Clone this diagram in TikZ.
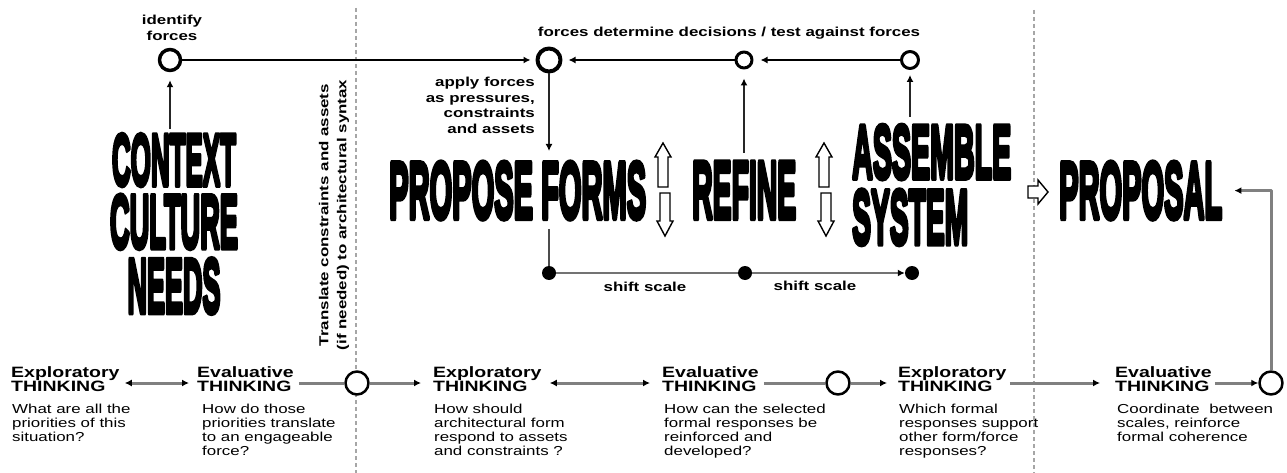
\documentclass[tikz,border=0pt]{standalone}
\usepackage{fontspec}
\setmainfont{Liberation Sans}[FakeStretch=1.3]
\newfontfamily\heavyfont{Liberation Sans}[BoldFeatures={FakeBold=7}]
\usetikzlibrary{arrows.meta,calc}
\newcommand\bigword[3]{\resizebox{#1pt}{#2pt}{\heavyfont\bfseries #3}}
\newcommand\stackC[1]{\vbox{\offinterlineskip\halign{\hfil##\hfil\cr#1}}}
\newcommand\stackL[1]{\vbox{\offinterlineskip\halign{##\hfil\cr#1}}}
\tikzset{
  lbl/.style={font=\bfseries\fontsize{13}{15.5}\selectfont, inner sep=0},
  body/.style={font=\fontsize{13}{14}\selectfont, align=left, anchor=north west, inner sep=0},
  head/.style={font=\bfseries\fontsize{15}{14.5}\selectfont, align=left, anchor=north west, inner sep=0},
  big/.style={anchor=north west, inner sep=0, line join=round},
  ring/.style={circle, draw, fill=white, inner sep=0},
  dotn/.style={circle, fill=black, inner sep=0, minimum size=14pt},
  tipk/.tip={Latex[length=7pt,width=7pt,color=black]},
  topc/.style={line width=2.5pt, -tipk},
  vert/.style={line width=1.5pt, draw=black!85, -tipk},
  plainv/.style={line width=1.5pt, draw=black!70},
  botl/.style={line width=3pt, draw=black!50},
  scl/.style={line width=2.5pt, draw=black!55},
  gapline/.style={line width=2pt, draw=black!35, dash pattern=on 4pt off 3pt},
  blockar/.style={line width=1.4pt, draw=black, fill=white, line join=miter},
  dblarrow/.pic={
    \draw[blockar] (0,-47)--(8,-33)--(5,-33)--(5,-3)--(-5,-3)--(-5,-33)--(-8,-33)--cycle;
    \draw[blockar] (2,46)--(10,31)--(7,31)--(7,3)--(-3,3)--(-3,31)--(-6,31)--cycle;
  }
}
\begin{document}
\begin{tikzpicture}[x=1pt,y=-1pt, line join=round]
\fill[white] (0,0) rectangle (1287,473);
\useasboundingbox (0,0) rectangle (1287,473);

% dashed dividers
\draw[gapline] (356,8) -- (356,473);
\draw[gapline] (1034,10) -- (1034,473);

% rotated text
\node[lbl, rotate=90, align=center, font=\bfseries\fontsize{13}{18}\selectfont] (transl) at (334,215)
  {Translate constraints and assets\\(if needed) to architectural syntax};

% big words
\node[big, anchor=north] (ccn) at (174,134) {\stackC{\bigword{124}{51}{CONTEXT}\cr\noalign{\kern9pt}\bigword{128}{53}{CULTURE}\cr\noalign{\kern10pt}\bigword{93}{54}{NEEDS}\cr}};
\node[big] (pf) at (389,162) {\bigword{257}{56}{PROPOSE FORMS}};
\node[big] (ref) at (692,162) {\bigword{104}{56}{REFINE}};
\node[big] (asm) at (852,125) {\stackL{\bigword{159}{53}{ASSEMBLE}\cr\noalign{\kern11pt}\bigword{116}{54}{SYSTEM}\cr}};
\node[big] (prop) at (1059,162) {\bigword{163}{56}{PROPOSAL}};

% block arrows
\pic at (663,190) {dblarrow};
\pic at (824,190) {dblarrow};
\draw[blockar] (1028,186)--(1038,186)--(1038,180)--(1048,192)--(1038,204)--(1038,198)--(1028,198)--cycle;

% top circles
\node[ring, line width=3.5pt, minimum size=21pt] (c1) at (170,60) {};
\node[ring, line width=4pt, minimum size=23pt] (c2) at (549,60) {};
\node[ring, line width=3pt, minimum size=16pt] (c3) at (744,60) {};
\node[ring, line width=3pt, minimum size=17pt] (c4) at (910,60) {};

% top labels
\node[lbl, align=center] (idf) at (172,28) {identify\\forces};
\node[lbl] (fdd) at (729,33) {forces determine decisions / test against forces};
\node[lbl, align=right, anchor=north east] (apf) at (535,77) {apply forces\\as pressures,\\constraints\\and assets};

% top connectors
\draw[topc, shorten >=5pt] (c1) -- (c2);
\draw[topc, shorten >=6pt] (c3) -- (c2);
\draw[topc, shorten >=7pt] (c4) -- (c3);
\draw[vert, shorten >=8pt] ([yshift=5pt]c1 |- ccn.north) -- (c1);
\draw[vert] (c2) -- ([yshift=11pt]c2 |- pf.north);
\draw[vert, shorten >=9pt] ([yshift=9pt]c3 |- ref.north) -- (c3);
\draw[vert, shorten >=5pt] ([yshift=8pt]c4 |- asm.north) -- (c4);

% shift scale
\node[dotn] (d1) at (549,273) {};
\node[dotn] (d2) at (745,273) {};
\node[dotn] (d3) at (912,273) {};
\draw[plainv] ([yshift=-10pt]d1 |- pf.south) -- (d1);
\draw[scl] (d1) -- (d2);
\draw[scl, -tipk] (d2) -- (d3);
\node[lbl] (ss1) at (645,287) {shift scale};
\node[lbl] (ss2) at (815,286) {shift scale};

% bottom row
\node[head] (e1) at (11,366) {Exploratory\\THINKING};
\node[body] (e1b) at (12,404) {What are all the\\priorities of this\\situation?};
\node[head] (v1) at (197,366) {Evaluative\\THINKING};
\node[body] (v1b) at (202,404) {How do those\\priorities translate\\to an engageable\\force?};
\node[head] (e2) at (433,366) {Exploratory\\THINKING};
\node[body] (e2b) at (434,404) {How should\\architectural form\\respond to assets\\and constraints ?};
\node[head] (v2) at (662,366) {Evaluative\\THINKING};
\node[body] (v2b) at (664,404) {How can the selected\\formal responses be\\reinforced and\\developed?};
\node[head] (e3) at (898,366) {Exploratory\\THINKING};
\node[body] (e3b) at (899,404) {Which formal\\responses support\\other form/force\\responses?};
\node[head] (v3) at (1115,366) {Evaluative\\THINKING};
\node[body] (v3b) at (1117,404) {Coordinate\ \ between\\scales, reinforce\\formal coherence};

\node[ring, line width=2.5pt, minimum size=23pt] (b1) at (357,383) {};
\node[ring, line width=2.5pt, minimum size=23pt] (b2) at (838,383) {};
\node[ring, line width=2.5pt, minimum size=23pt] (b3) at (1271,383) {};

\draw[botl, tipk-tipk] ([xshift=5pt]e1.east |- b1) -- ([xshift=-8pt]v1.west |- b1);
\draw[botl] ([xshift=5pt]v1.east |- b1) -- (b1);
\draw[botl, -tipk] (b1) -- ([xshift=-12pt]e2.west |- b1);
\draw[botl, tipk-tipk] ([xshift=8pt]e2.east |- b1) -- ([xshift=-12pt]v2.west |- b1);
\draw[botl] ([xshift=5pt]v2.east |- b2) -- (b2);
\draw[botl, -tipk] (b2) -- ([xshift=-11pt]e3.west |- b2);
\draw[botl, -tipk] ([xshift=3pt]e3.east |- b2) -- ([xshift=-15pt]v3.west |- b2);
\draw[botl, -tipk] ([xshift=3pt]v3.east |- b3) -- (b3);
\draw[botl, -tipk] (b3.north) |- ([xshift=12pt]prop.east);
\end{tikzpicture}
\end{document}
